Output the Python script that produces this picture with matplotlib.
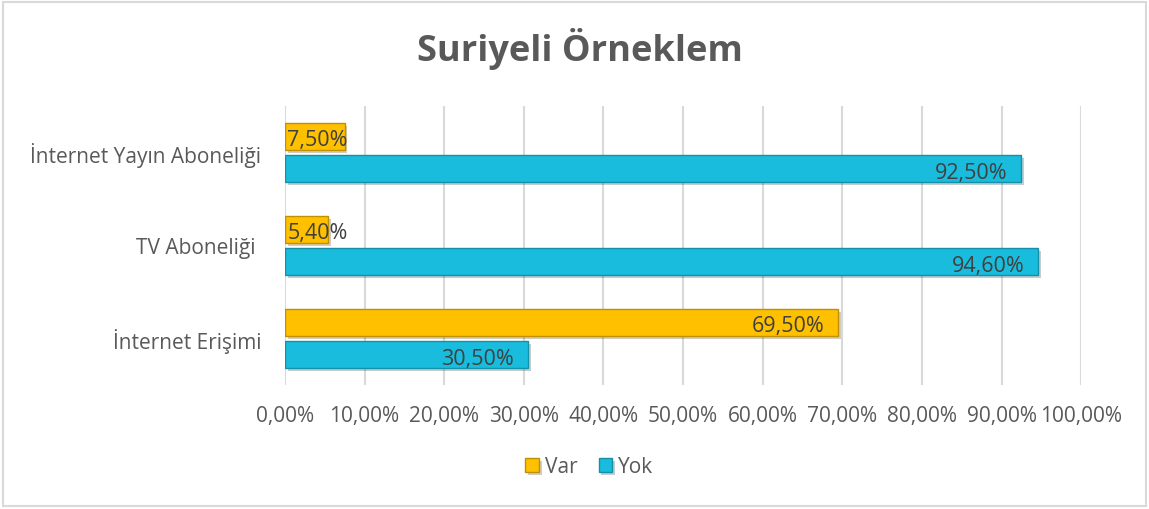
import matplotlib
matplotlib.use("Agg")
import matplotlib.pyplot as plt
import matplotlib.patheffects as pe
from matplotlib.patches import Rectangle
import numpy as np

categories = ["İnternet Erişimi", "TV Aboneliği ", "İnternet Yayın Aboneliği"]
var_values = [69.5, 5.4, 7.5]
yok_values = [30.5, 94.6, 92.5]
series_names = ["Var", "Yok"]
xticks = [0, 10, 20, 30, 40, 50, 60, 70, 80, 90, 100]

plt.rcParams["font.family"] = ["Open Sans", "DejaVu Sans"]
text_color = "#595959"

fig = plt.figure(figsize=(11.49, 5.09), dpi=100)
fig.patches.append(Rectangle((0.003, 0.006), 0.994, 0.99, transform=fig.transFigure,
                             fill=False, edgecolor="#D9D9D9", lw=1.5))
ax = fig.add_axes([0.248, 0.2436, 0.693, 0.548])

y = np.arange(len(categories))
h = 0.29
shadow = [pe.SimplePatchShadow(offset=(2, -2), alpha=0.25), pe.Normal()]
bars_var = ax.barh(y + 0.175, var_values, height=h, color="#FFC000", edgecolor="#BF9000",
                   lw=1, label=series_names[0], zorder=3)
bars_yok = ax.barh(y - 0.175, yok_values, height=h, color="#19BCDC", edgecolor="#1590A8",
                   lw=1, label=series_names[1], zorder=3)
for b in list(bars_var) + list(bars_yok):
    b.set_path_effects(shadow)

for bars, vals, ys in [(bars_var, var_values, y + 0.175), (bars_yok, yok_values, y - 0.175)]:
    for v, yy in zip(vals, ys):
        txt = f"{v:.2f}%".replace(".", ",")
        if v < 15:
            ax.text(0.3, yy - 0.05, txt, ha="left", va="center", fontsize=15.5,
                    color="#404040", zorder=4)
        else:
            ax.text(v - 1.7, yy - 0.05, txt, ha="right", va="center", fontsize=15.5,
                    color="#404040", zorder=4)

ax.set_xlim(0, 100)
ax.set_ylim(-0.5, 2.5)
ax.set_xticks(xticks)
ax.set_xticklabels([f"{t},00%" for t in xticks], fontsize=15, color=text_color)
ax.set_yticks(y)
ax.set_yticklabels(categories, fontsize=15, color=text_color)
ax.tick_params(axis="x", length=0, pad=15)
ax.tick_params(axis="y", length=0, pad=17)
ax.grid(axis="x", color="#D9D9D9", lw=1.5, zorder=0)
for s in ax.spines.values():
    s.set_visible(False)

fig.suptitle("Suriyeli Örneklem", x=0.505, y=0.945, fontsize=26, fontweight="bold",
             color=text_color)
leg = fig.legend(loc="center", bbox_to_anchor=(0.513, 0.082), ncol=2, frameon=False,
                 fontsize=15, handlelength=0.65, handleheight=0.65, handletextpad=0.3,
                 columnspacing=1.0)
for t in leg.get_texts():
    t.set_color(text_color)

fig.savefig("out.png", dpi=100)
